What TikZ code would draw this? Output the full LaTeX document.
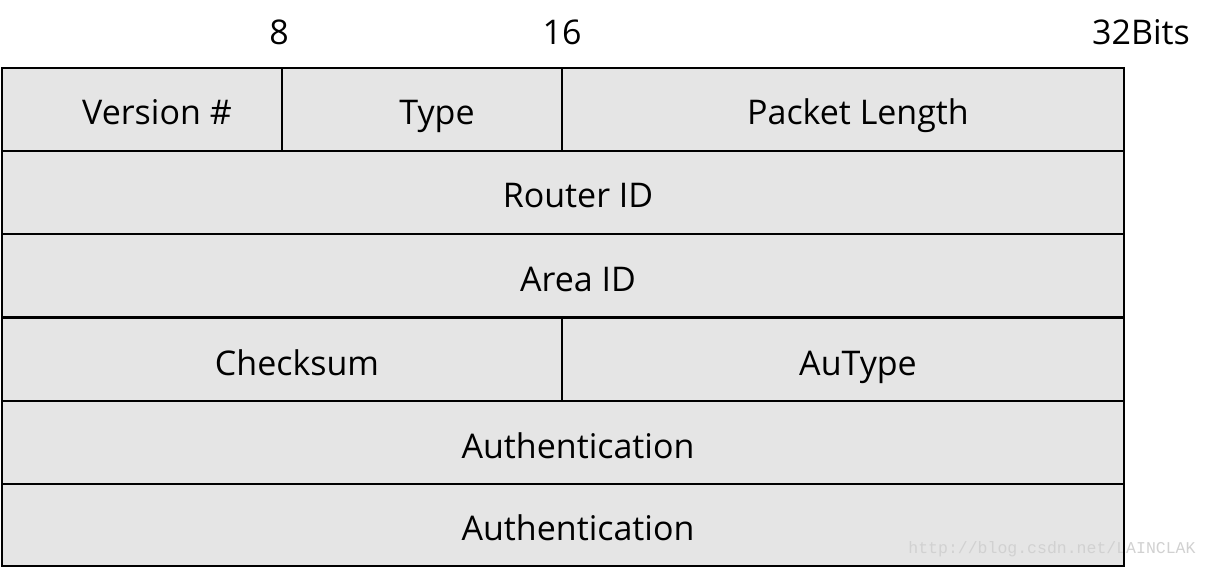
\documentclass[tikz,border=0pt]{standalone}
\usepackage{fontspec}
\setmainfont{Open Sans}
\newfontfamily\wmfont{Liberation Mono}
\begin{document}
\begin{tikzpicture}[x=1pt,y=-1pt,
  cell/.style={draw=black,line width=1.6pt,fill=cellgray,minimum height=83pt,inner sep=0pt,outer sep=0pt,anchor=north west},
  celltext/.style={font=\fontsize{34}{40}\selectfont,inner sep=0pt,anchor=base},
  bitlabel/.style={font=\fontsize{34}{40}\selectfont,inner sep=0pt,anchor=base}]
\definecolor{cellgray}{HTML}{E5E5E5}
\useasboundingbox (0,0) rectangle (1210,569);
\node[bitlabel] (b8) at (279,45) {8};
\node[bitlabel] (b16) at (562,45) {16};
\node[bitlabel] (b32) at (1141,45) {32Bits};
\node[cell,minimum width=280pt] (ver) at (2,68) {};
\node[cell,minimum width=280pt] (type) at (282,68) {};
\node[cell,minimum width=562pt] (len) at (562,68) {};
\node[cell,minimum width=1122pt] (rid) at (2,151) {};
\node[cell,minimum width=1122pt] (aid) at (2,234) {};
\node[cell,minimum width=560pt] (chk) at (2,318) {};
\node[cell,minimum width=562pt] (aut) at (562,318) {};
\node[cell,minimum width=1122pt] (auth1) at (2,401) {};
\node[cell,minimum width=1122pt,minimum height=82pt] (auth2) at (2,484) {};
\node[celltext] (tver) at ([xshift=15pt,yshift=-15.5pt]ver.center) {Version \#};
\node[celltext] (ttype) at ([xshift=15pt,yshift=-15.5pt]type.center) {Type};
\node[celltext] (tlen) at ([xshift=15pt,yshift=-15.5pt]len.center) {Packet Length};
\node[celltext] (trid) at ([xshift=15pt,yshift=-15.5pt]rid.center) {Router ID};
\node[celltext] (taid) at ([xshift=15pt,yshift=-15.5pt]aid.center) {Area ID};
\node[celltext] (tchk) at ([xshift=15pt,yshift=-15.5pt]chk.center) {Checksum};
\node[celltext] (taut) at ([xshift=15pt,yshift=-15.5pt]aut.center) {AuType};
\node[celltext] (tauth1) at ([xshift=15pt,yshift=-15.5pt]auth1.center) {Authentication};
\node[celltext] (tauth2) at ([xshift=15pt,yshift=-15pt]auth2.center) {Authentication};
\node[font=\wmfont\fontsize{16.5}{18}\selectfont,text=black!18,inner sep=0pt] (wm) at (1052,549) {http://blog.csdn.net/LAINCLAK};
\draw[line width=1.6pt] (auth2.north east) -- (auth2.south east);
\end{tikzpicture}
\end{document}
